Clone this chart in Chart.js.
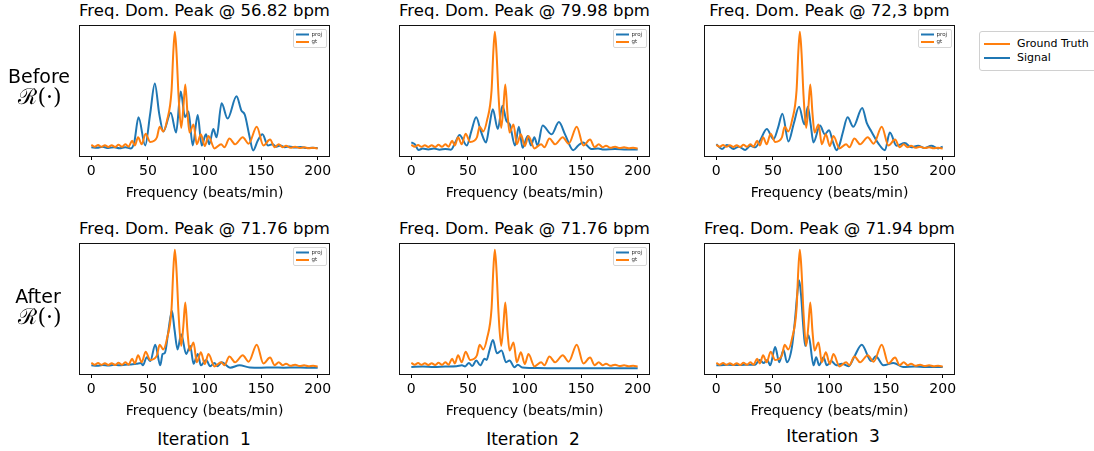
<!DOCTYPE html>
<html>
<head>
<meta charset="utf-8">
<script src="https://cdn.jsdelivr.net/npm/chart.js@4.4.1/dist/chart.umd.min.js"></script>
<style>
  body { margin: 0; background: #fff; font-family: 'DejaVu Sans', sans-serif; color: #000; }
  #page { position: relative; width: 1094px; height: 451px; overflow: hidden; }
  canvas { position: absolute; }
  .title { position: absolute; width: 300px; text-align: center; font-size: 16.5px; line-height: 16px; white-space: nowrap; }
  .rowlab { position: absolute; width: 80px; text-align: center; font-size: 19px; line-height: 18px; }
  .rowmath { position: absolute; width: 80px; text-align: center; font-size: 22px; line-height: 22px; font-family: 'DejaVu Serif', serif; }
  .iter { position: absolute; width: 200px; text-align: center; font-size: 17px; line-height: 17px; white-space: pre; }
  #legend { position: absolute; left: 979px; top: 31px; width: 130px; height: 38px; border: 1px solid #d0d0d0; border-radius: 3px; font-size: 11px; }
  #legend .item { position: absolute; left: 4px; height: 14px; }
  #legend .sw { position: absolute; left: 0; top: 6px; width: 26px; height: 2px; }
  #legend .tx { position: absolute; left: 33px; top: 0; white-space: nowrap; }
</style>
</head>
<body>
<div id="page"></div>
<script>
// ground truth spectrum (same in every panel)
const gtFreq = [0, 3, 6, 9, 12, 15, 18, 21, 24, 27, 30, 33, 36, 38.5, 41.3, 44.5, 48, 52, 55.5, 58, 60.4, 63.5, 66.8, 70.9, 72.4, 73.8, 75.3, 77.1, 79.4, 81.3, 83, 85, 86.8, 90.3, 93.2, 96.8, 100.3, 103.5, 108.8, 114.7, 117.6, 122, 127, 133.8, 139, 146.2, 152, 157.9, 162, 165.6, 169, 172, 176, 180, 184, 188, 192, 196, 200];
const gtAmp = [0.035, 0.02, 0.033, 0.018, 0.032, 0.017, 0.032, 0.017, 0.035, 0.018, 0.04, 0.02, 0.07, 0.03, 0.1, 0.04, 0.13, 0.06, 0.07, 0.1, 0.19, 0.15, 0.24, 0.5, 0.82, 1.0, 0.82, 0.45, 0.18, 0.35, 0.55, 0.3, 0.14, 0.21, 0.04, 0.125, 0.025, 0.11, 0.005, 0.04, 0.015, 0.09, 0.04, 0.1, 0.045, 0.19, 0.03, 0.08, 0.015, 0.04, 0.015, 0.028, 0.01, 0.02, 0.008, 0.014, 0.006, 0.01, 0.005];

// signal spectra, iteration 1..3 before and after R(.)
const before1Freq = [0, 5, 10, 15, 20, 25, 30, 35, 38, 41.7, 47.6, 52, 56.1, 60, 63.7, 70.2, 74.9, 79, 82.8, 85.8, 89.6, 94, 97.5, 101.3, 104.2, 107.8, 110.7, 115.1, 120.4, 128.3, 132.5, 135.7, 139.5, 143, 147, 151.2, 156, 160, 163.5, 167, 171, 175, 180, 185, 190, 195, 200];
const before1Amp = [0.014, 0.01, 0.018, 0.008, 0.015, 0.006, 0.014, 0.005, 0.06, 0.27, 0.03, 0.3, 0.56, 0.3, 0.15, 0.31, 0.14, 0.49, 0.27, 0.32, 0.03, 0.29, 0.03, 0.125, 0.04, 0.17, 0.1, 0.39, 0.26, 0.45, 0.33, 0.29, 0.12, -0.012, 0.07, 0.125, 0.03, 0.04, 0.02, 0.03, 0.015, 0.022, 0.012, 0.016, 0.008, 0.01, 0.008];

const before2Freq = [0, 3, 6.5, 10, 15, 20, 25, 30, 35, 39, 42.6, 49, 53, 57.3, 61.5, 66, 69, 72, 76.4, 80.5, 84, 87, 91.6, 95, 98.3, 102.8, 105.7, 108.7, 111.5, 116, 124, 130.4, 136, 143, 147.5, 151.8, 159, 165, 170, 180, 190, 200];
const before2Amp = [0.056, 0.04, -0.008, 0.003, -0.005, 0.003, -0.006, 0, -0.006, 0.06, 0.12, 0.03, 0.15, 0.27, 0.15, 0.056, 0.2, 0.34, 0.17, 0.37, 0.24, 0.21, 0.03, 0.19, 0.01, 0.11, 0.03, 0.1, 0.03, 0.2, 0.125, 0.23, 0.12, -0.01, 0.03, 0.056, 0, 0.005, -0.005, 0, -0.005, -0.005];

const before3Freq = [0, 5, 9.4, 15.3, 19.7, 25.5, 30, 34.4, 38.8, 44.6, 50.5, 54.5, 58.4, 63.7, 68.5, 73.1, 77.8, 80.8, 83.5, 85.8, 91.6, 95.8, 99.6, 103, 106.3, 109, 112, 116, 121, 128.9, 133, 137, 143, 149, 153.3, 159.2, 166.5, 172.4, 178.3, 184, 190, 196, 200];
const before3Amp = [0.04, 0, 0.033, 0, 0.02, -0.008, 0.028, 0.014, 0.075, 0.17, 0.083, 0.18, 0.3, 0.064, 0.22, 0.36, 0.21, 0.36, 0.2, 0.056, 0.2, 0.125, 0.16, 0.06, -0.01, 0.04, 0.15, 0.27, 0.19, 0.35, 0.22, 0.15, 0.05, -0.01, 0.14, 0.028, 0.05, 0.014, 0.028, 0.008, 0.028, 0.005, 0.02];

const after1Freq = [0, 5, 10, 15, 20, 25, 30, 35, 40, 44, 45.6, 49, 52.1, 56.5, 60.9, 63, 65, 68, 71.2, 73.5, 76.2, 79.4, 83.8, 87.4, 90.3, 94.1, 96.8, 101.5, 105, 108.8, 111.5, 115.3, 122.6, 131, 140, 150, 160, 170, 180, 190, 200];
const after1Amp = [0.014, 0.01, 0.016, 0.012, 0.018, 0.014, 0.02, 0.022, 0.028, 0.033, 0.014, 0.084, 0.05, 0.19, 0.014, 0.11, 0.12, 0.3, 0.48, 0.32, 0.15, 0.28, 0.11, 0.18, 0.028, 0.11, 0.014, 0.06, 0.006, 0.034, 0.006, 0.04, -0.006, 0.014, -0.004, -0.006, -0.004, -0.006, -0.005, -0.006, -0.006];

const after2Freq = [0, 10, 20, 30, 40, 44.7, 47.5, 50.9, 53.8, 57.4, 60.9, 64.7, 66.5, 69, 72.1, 75.6, 79.7, 83.8, 86.8, 91.2, 94.1, 98, 105, 120, 140, 160, 180, 200];
const after2Amp = [0, 0.003, 0, 0.004, 0.006, 0.014, 0.005, 0.034, 0.008, 0.056, 0.014, 0.07, 0.06, 0.14, 0.23, 0.117, 0.14, 0.04, 0.056, -0.003, 0.02, -0.005, -0.008, -0.01, -0.01, -0.01, -0.01, -0.01];

const after3Freq = [0, 10, 20, 30, 34.4, 38.2, 42, 45, 47.6, 52, 55.6, 59.4, 62.4, 66.8, 69.5, 71.5, 73.2, 75, 76.8, 78.5, 81.5, 85.9, 88.2, 90.9, 94.7, 97.6, 101.5, 106, 110.9, 116.8, 122, 128.5, 136.8, 140.9, 147.6, 156.5, 165, 175, 185, 200];
const after3Amp = [0.014, 0.018, 0.016, 0.02, 0.02, 0.06, 0.034, 0.06, 0.014, 0.17, 0.04, 0.145, 0.04, 0.17, 0.4, 0.62, 0.74, 0.6, 0.35, 0.18, 0.27, 0.014, 0.084, 0.014, 0.084, 0.014, 0.05, 0.014, 0.028, 0.006, 0.09, 0.19, 0.05, 0.092, 0.014, 0.034, 0, 0.003, 0, 0];

const xTicks = [0, 50, 100, 150, 200];
const peaks = ['56.82', '79.98', '72,3', '71.76', '71.76', '71.94'];

const BLUE = '#1f77b4';
const ORANGE = '#ff7f0e';
const FONT = "'DejaVu Sans', sans-serif";

const page = document.getElementById('page');

function toPoints(freq, amp) {
  return freq.map((f, i) => ({ x: f, y: amp[i] }));
}

// black frame round the plot area
const framePlugin = {
  id: 'frame',
  afterDraw(chart) {
    const { ctx, chartArea: a } = chart;
    ctx.save();
    ctx.strokeStyle = '#111';
    ctx.lineWidth = 1;
    ctx.strokeRect(Math.round(a.left) - 0.5, Math.round(a.top) - 0.5, Math.round(a.width) + 1, Math.round(a.height) + 1);
    ctx.restore();
  }
};

// tiny proj / gt legend in the top right corner
const miniLegend = {
  id: 'miniLegend',
  afterDatasetsDraw(chart, args, opts) {
    if (!opts.show) return;
    const { ctx, chartArea: a } = chart;
    const w = 33, h = 18;
    const x = a.right - w - 3, y = a.top + 3;
    ctx.save();
    ctx.fillStyle = 'rgba(255,255,255,0.85)';
    ctx.strokeStyle = '#d6d6d6';
    ctx.lineWidth = 1;
    ctx.beginPath();
    ctx.roundRect(x + 0.5, y + 0.5, w, h, 1.5);
    ctx.fill();
    ctx.stroke();
    ctx.font = '5.5px ' + FONT;
    ctx.textBaseline = 'middle';
    chart.data.datasets.forEach((ds, i) => {
      const ly = y + 5.5 + i * 7.5;
      ctx.strokeStyle = ds.borderColor;
      ctx.lineWidth = 2;
      ctx.beginPath();
      ctx.moveTo(x + 3, ly);
      ctx.lineTo(x + 16, ly);
      ctx.stroke();
      ctx.fillStyle = '#333';
      ctx.fillText(ds.label, x + 18.5, ly);
    });
    ctx.restore();
  }
};

function makePanel(left, top, freq, amp, peak, showMini) {
  const W = 249, H = 133;
  const canvas = document.createElement('canvas');
  canvas.width = W + 24;
  canvas.height = 178;
  canvas.style.left = (left - 12) + 'px';
  canvas.style.top = (top - 2) + 'px';
  page.appendChild(canvas);

  const t = document.createElement('div');
  t.className = 'title';
  t.style.left = (left + W / 2 - 150) + 'px';
  t.style.top = (top - 23) + 'px';
  t.textContent = 'Freq. Dom. Peak @ ' + peak + ' bpm';
  page.appendChild(t);

  new Chart(canvas, {
    type: 'line',
    data: {
      datasets: [
        { label: 'proj', data: toPoints(freq, amp), borderColor: BLUE, borderWidth: 2, pointRadius: 0, cubicInterpolationMode: 'monotone', order: 1 },
        { label: 'gt', data: toPoints(gtFreq, gtAmp), borderColor: ORANGE, borderWidth: 2, pointRadius: 0, cubicInterpolationMode: 'monotone', order: 0 }
      ]
    },
    options: {
      responsive: false,
      animation: false,
      layout: { padding: { left: 12, right: 12, top: 2, bottom: 0.4 } },
      plugins: {
        legend: { display: false },
        tooltip: { enabled: false },
        miniLegend: { show: showMini }
      },
      scales: {
        x: {
          type: 'linear',
          min: -10,
          max: 210,
          afterBuildTicks: scale => { scale.ticks = xTicks.map(v => ({ value: v })); },
          grid: { display: true, drawOnChartArea: false, drawTicks: true, tickLength: 4, color: '#000', lineWidth: 1 },
          border: { display: false },
          ticks: { color: '#000', font: { family: FONT, size: 14 }, padding: 3, maxRotation: 0, autoSkip: false },
          title: { display: true, text: 'Frequency (beats/min)', color: '#000', font: { family: FONT, size: 14 }, padding: { top: 2, bottom: 0 } }
        },
        y: { display: false, min: -0.06, max: 1.05 }
      }
    },
    plugins: [framePlugin, miniLegend]
  });
}

const lefts = [80, 400, 705];
makePanel(lefts[0], 26, before1Freq, before1Amp, peaks[0], true);
makePanel(lefts[1], 26, before2Freq, before2Amp, peaks[1], true);
makePanel(lefts[2], 26, before3Freq, before3Amp, peaks[2], true);
makePanel(lefts[0], 244, after1Freq, after1Amp, peaks[3], true);
makePanel(lefts[1], 244, after2Freq, after2Amp, peaks[4], true);
makePanel(lefts[2], 244, after3Freq, after3Amp, peaks[5], false);

function addText(cls, text, left, top) {
  const d = document.createElement('div');
  d.className = cls;
  d.textContent = text;
  d.style.left = left + 'px';
  d.style.top = top + 'px';
  page.appendChild(d);
}

addText('rowlab', 'Before', -1, 67);
addText('rowmath', '\u211B(\u00B7)', 0, 86);
addText('rowlab', 'After', -2, 287);
addText('rowmath', '\u211B(\u00B7)', 0, 306);

addText('iter', 'Iteration  1', 104, 431);
addText('iter', 'Iteration  2', 433, 431);
addText('iter', 'Iteration  3', 733, 428);

// figure legend on the right
const legend = document.createElement('div');
legend.id = 'legend';
[['Ground Truth', ORANGE, 5], ['Signal', BLUE, 19]].forEach(([name, color, y]) => {
  const item = document.createElement('div');
  item.className = 'item';
  item.style.top = y + 'px';
  item.innerHTML = '<span class="sw" style="background:' + color + '"></span><span class="tx">' + name + '</span>';
  legend.appendChild(item);
});
page.appendChild(legend);
</script>
</body>
</html>
